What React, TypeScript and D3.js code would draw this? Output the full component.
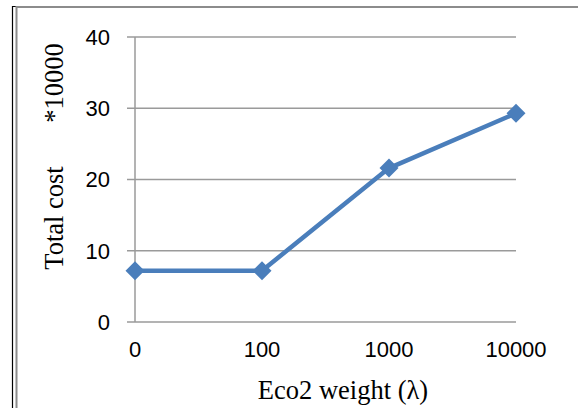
import React from "react";
import * as d3 from "d3";

const categories = ["0", "100", "1000", "10000"];
const totalCost = [7.2, 7.2, 21.6, 29.3];
const yTicks = [0, 10, 20, 30, 40];
const xTitle = "Eco2 weight (λ)";
const yTitle = "Total cost";
const yUnit = "*10000";

export default function App() {
  const W = 578, H = 408;
  const x = d3.scalePoint<string>().domain(categories).range([135, 516]).padding(0);
  const y = d3.scaleLinear().domain([0, 40]).range([322, 37]);
  const line = d3.line<number>().x((_, i) => x(categories[i])!).y((d) => y(d));
  const grid = "#9a9a9a";
  const blue = "#4a7ebb";
  const sans = "'Liberation Sans', Arial, sans-serif";
  const serif = "'Liberation Serif', 'Times New Roman', serif";
  return (
    <svg width={W} height={H} style={{ position: "absolute", left: 0, top: 0 }}>
      <rect width={W} height={H} fill="#fff" />
      <path d="M16,6.5 H12.5 V408" fill="none" stroke="#000" strokeWidth={1.2} />
      <path d="M16.5,408 V7 H578" fill="none" stroke="#8c8c8c" strokeWidth={2} />
      {yTicks.map((t) => (
        <g key={t}>
          <line x1={127} x2={516} y1={y(t)} y2={y(t)} stroke={grid} strokeWidth={1.5} />
          <text x={110} y={y(t)} dy="0.36em" textAnchor="end" fontFamily={sans} fontSize={22} fill="#000">
            {t}
          </text>
        </g>
      ))}
      <line x1={135} x2={135} y1={y(40)} y2={y(0)} stroke={grid} strokeWidth={1.5} />
      {categories.map((c) => (
        <text key={c} x={x(c)} y={357} textAnchor="middle" fontFamily={sans} fontSize={22} fill="#000">
          {c}
        </text>
      ))}
      <path d={line(totalCost)!} fill="none" stroke={blue} strokeWidth={4.5} strokeLinejoin="round" />
      {totalCost.map((v, i) => {
        const cx = x(categories[i])!, cy = y(v), r = 9.5;
        return (
          <path key={i} d={`M${cx},${cy - r}L${cx + r},${cy}L${cx},${cy + r}L${cx - r},${cy}Z`} fill={blue} />
        );
      })}
      <text x={343} y={399} textAnchor="middle" fontFamily={serif} fontSize={26.5} fill="#000">
        {xTitle}
      </text>
      <text transform="translate(63,218) rotate(-90)" textAnchor="middle" fontFamily={serif} fontSize={26.5} fill="#000">
        {yTitle}
      </text>
      <text transform="translate(63,83) rotate(-90)" textAnchor="middle" fontFamily={serif} fontSize={26.5} fill="#000">
        {yUnit}
      </text>
    </svg>
  );
}
